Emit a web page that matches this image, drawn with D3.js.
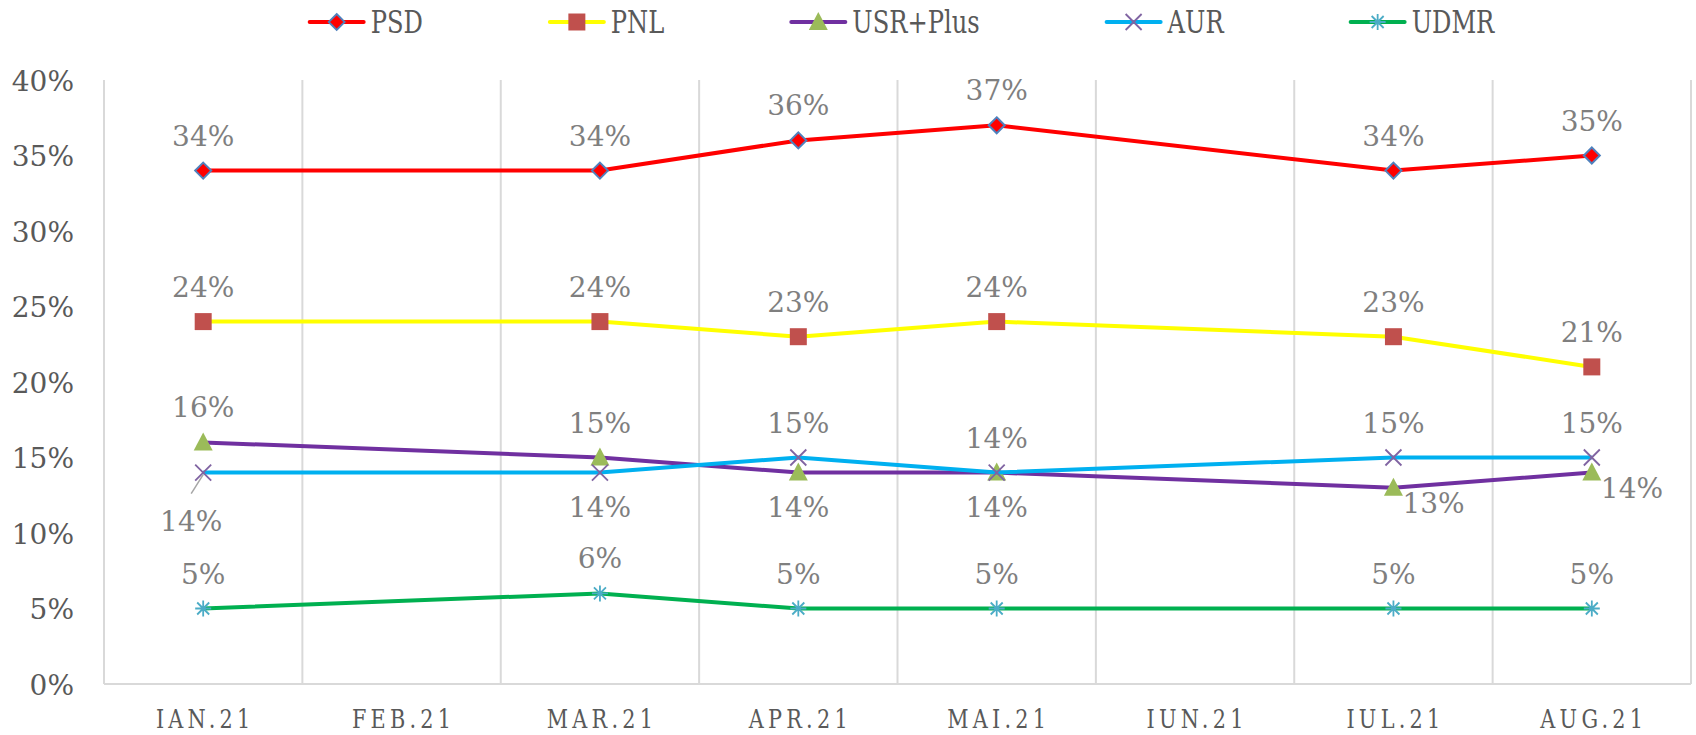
<!DOCTYPE html>
<html lang="ro">
<head>
<meta charset="UTF-8">
<title>Sondaje 2021</title>
<script src="https://d3js.org/d3.v7.min.js"></script>
<style>
    body { margin: 0; background: #fff; }
    .ytick text { font-family: "DejaVu Serif", serif; font-size: 28px; fill: #595959; }
    .xtick text { font-family: "DejaVu Serif", serif; font-size: 26px; fill: #595959; letter-spacing: 5.3px; }
    .grid { stroke: #d9d9d9; stroke-width: 2px; }
    .label { font-family: "DejaVu Serif", serif; font-size: 28px; fill: #7f7f7f; }
    .legend text { font-family: "DejaVu Serif", serif; font-size: 31px; fill: #595959; }
</style>
</head>
<body>
<svg width="1696" height="735"></svg>
<script>
    // months (feb and iun have no poll)
    const months = ["IAN.21", "FEB.21", "MAR.21", "APR.21", "MAI.21", "IUN.21", "IUL.21", "AUG.21"];

    const psd  = [0.34, null, 0.34, 0.36, 0.37, null, 0.34, 0.35];
    const pnl  = [0.24, null, 0.24, 0.23, 0.24, null, 0.23, 0.21];
    const usr  = [0.16, null, 0.15, 0.14, 0.14, null, 0.13, 0.14];
    const aur  = [0.14, null, 0.14, 0.15, 0.14, null, 0.15, 0.15];
    const udmr = [0.05, null, 0.06, 0.05, 0.05, null, 0.05, 0.05];

    const yTicks = [0, 0.05, 0.10, 0.15, 0.20, 0.25, 0.30, 0.35, 0.40];

    // where the data label sits for each point
    const usrPlace = ["above", null, "above", "below", "below", null, "right", "right"];
    const aurPlace = ["leader", null, "below", "above", "above", null, "above", "above"];

    const series = [
        {name: "PSD", values: psd, line: "#ff0000", shape: "diamond", fill: "#ff0000", stroke: "#4f81bd"},
        {name: "PNL", values: pnl, line: "#ffff00", shape: "square", fill: "#c0504d", stroke: "none"},
        {name: "USR+Plus", values: usr, line: "#7030a0", shape: "triangle", fill: "#9bbb59", stroke: "none", place: usrPlace},
        {name: "AUR", values: aur, line: "#00b0f0", shape: "cross", fill: "none", stroke: "#8064a2", place: aurPlace},
        {name: "UDMR", values: udmr, line: "#00b050", shape: "star", fill: "none", stroke: "#4bacc6"}
    ];

    const svg = d3.select("svg");
    const plotLeft = 104, plotRight = 1691, plotTop = 80, plotBottom = 684;

    const x = d3.scaleBand().domain(months).range([plotLeft, plotRight]);
    const y = d3.scaleLinear().domain([0, 0.4]).range([plotBottom, plotTop]);
    const cx = m => x(m) + x.bandwidth() / 2;

    // vertical gridlines on category borders + bottom line
    const borders = months.map(m => x(m)).concat([plotRight]);
    svg.append("g").selectAll("line")
        .data(borders)
        .enter().append("line")
        .attr("class", "grid")
        .attr("x1", d => d).attr("x2", d => d)
        .attr("y1", plotTop).attr("y2", plotBottom);
    svg.append("line").attr("class", "grid")
        .attr("x1", plotLeft).attr("x2", plotRight)
        .attr("y1", plotBottom).attr("y2", plotBottom);

    // axes
    const yAxis = svg.append("g")
        .attr("class", "ytick")
        .attr("transform", `translate(${plotLeft},0)`)
        .call(d3.axisLeft(y).tickValues(yTicks).tickFormat(d3.format(".0%")).tickSize(0).tickPadding(30));
    yAxis.select(".domain").remove();
    yAxis.selectAll("text").attr("dy", "0.36em");

    const xAxis = svg.append("g")
        .attr("class", "xtick")
        .attr("transform", `translate(0,${plotBottom})`)
        .call(d3.axisBottom(x).tickSize(0).tickPadding(0));
    xAxis.select(".domain").remove();
    // narrow, tall, spaced month labels
    xAxis.selectAll("text")
        .attr("y", 0).attr("dy", 0)
        .attr("transform", "translate(2,44) scale(0.8,1)");

    // marker shapes
    function markerPath(shape) {
        switch (shape) {
            case "diamond": return "M0,-8L8,0L0,8L-8,0Z";
            case "square": return "M-8.5,-8.5H8.5V8.5H-8.5Z";
            case "triangle": return "M0,-10L9.5,8L-9.5,8Z";
            case "cross": return "M-8,-8L8,8M-8,8L8,-8";
            case "star": return "M-8,0H8M0,-8V8M-6,-6L6,6M-6,6L6,-6";
        }
    }

    const line = d3.line()
        .x(d => cx(d.m))
        .y(d => y(d.v));

    series.forEach(s => {
        const pts = months.map((m, i) => ({m: m, v: s.values[i], i: i})).filter(d => d.v !== null);
        s.pts = pts;
        svg.append("path")
            .datum(pts)
            .attr("fill", "none")
            .attr("stroke", s.line)
            .attr("stroke-width", 4)
            .attr("stroke-linejoin", "round")
            .attr("d", line);
        svg.append("g").selectAll("path")
            .data(pts)
            .enter().append("path")
            .attr("transform", d => `translate(${cx(d.m)},${y(d.v)})`)
            .attr("d", markerPath(s.shape))
            .attr("fill", s.fill)
            .attr("stroke", s.stroke)
            .attr("stroke-width", s.shape === "diamond" ? 2 : 1.8);
    });

    // data labels
    const fmt = d3.format(".0%");
    const labels = svg.append("g");
    series.forEach(s => {
        s.pts.forEach(d => {
            const place = s.place ? s.place[d.i] : "above";
            const px = cx(d.m), py = y(d.v);
            let tx = px, ty = py - 25, anchor = "middle";
            if (place === "below") ty = py + 44;
            if (place === "right") { tx = px + 9; ty = py + 25; anchor = "start"; }
            if (place === "leader") {
                tx = px - 12; ty = py + 58;
                labels.append("line")
                    .attr("x1", px).attr("y1", py + 2)
                    .attr("x2", px - 12).attr("y2", py + 21)
                    .attr("stroke", "#a6a6a6").attr("stroke-width", 1.5);
            }
            labels.append("text")
                .attr("class", "label")
                .attr("x", tx).attr("y", ty)
                .attr("text-anchor", anchor)
                .text(fmt(d.v));
        });
    });

    // legend
    const legend = svg.append("g").attr("class", "legend");
    const squeeze = 0.78;
    let lx = 0;
    series.forEach(s => {
        const g = legend.append("g").attr("transform", `translate(${lx},0)`);
        g.append("line")
            .attr("x1", 0).attr("x2", 54).attr("y1", 22).attr("y2", 22)
            .attr("stroke", s.line).attr("stroke-width", 4).attr("stroke-linecap", "round");
        g.append("path")
            .attr("transform", "translate(27,22)")
            .attr("d", markerPath(s.shape))
            .attr("fill", s.fill).attr("stroke", s.stroke).attr("stroke-width", 1.8);
        const t = g.append("text")
            .attr("transform", `translate(61,33) scale(${squeeze},1)`)
            .text(s.name);
        lx += 61 + t.node().getComputedTextLength() * squeeze + 127;
    });
    const legendWidth = lx - 127;
    legend.attr("transform", `translate(${902 - legendWidth / 2},0)`);
</script>
</body>
</html>
